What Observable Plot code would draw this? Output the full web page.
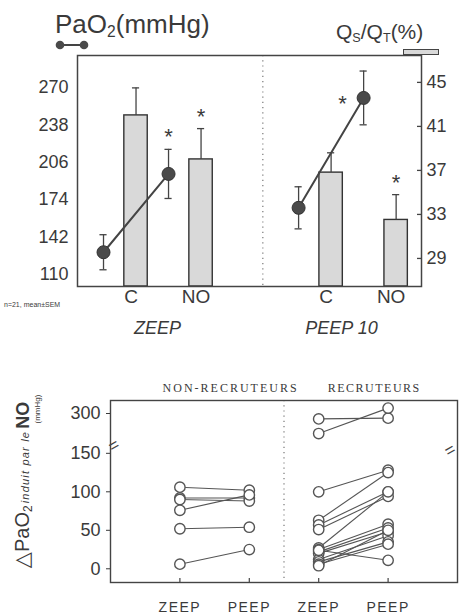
<!DOCTYPE html>
<html><head><meta charset="utf-8">
<script src="https://cdn.jsdelivr.net/npm/d3@7"></script>
<script src="https://cdn.jsdelivr.net/npm/@observablehq/plot@0.6"></script>
<style>
body{margin:0;background:#fff;}
#wrap{position:relative;width:459px;height:614px;overflow:hidden;font-family:"Liberation Sans",Arial,sans-serif;color:#3a3a3a;}
.abs{position:absolute;white-space:nowrap;}
.abs sub{font-size:60%;vertical-align:-0.25em;line-height:0;}
</style></head><body><div id="wrap"></div>
<script>
// ---- top panel data ----
const groups = ["ZEEP", "PEEP 10"];
const conditions = ["C", "NO"];
const pao2Mean = [129, 196, 167, 261];
const pao2Sem = [15, 21, 18, 23];
const shuntMean = [42.0, 38.0, 36.8, 32.5];
const shuntSem = [2.5, 2.8, 1.8, 2.3];
const pao2Signif = [false, true, false, true];
const shuntSignif = [false, true, false, true];
const pao2Ticks = [110, 142, 174, 206, 238, 270];
const shuntTicks = [29, 33, 37, 41, 45];

// ---- bottom panel data ----
const cohorts = ["NON-RECRUTEURS", "RECRUTEURS"];
const phases = ["ZEEP", "PEEP"];
const nonRecZeep = [106, 92, 90, 76, 52, 6];
const nonRecPeep = [102, 92, 88, 96, 54, 25];
const recZeep = [293, 274, 100, 63, 57, 51, 27, 25, 22, 20, 12, 9, 6, 4, 24];
const recPeep = [294, 307, 128, 125, 100, 94, 100, 58, 53, 48, 43, 35, 32, 50, 11];
const deltaTicks = [0, 50, 100, 150, 300];

const ink = "#3a3a3a";
const wrap = document.getElementById("wrap");

// ================= TOP PANEL =================
const shuntToPao = d3.scaleLinear([29, 45], [123.7, 274.3]);
const yMin = 99.7, yMax = 297.3;
const topRows = [];
groups.forEach((g, gi) => conditions.forEach((c, ci) => {
  const i = gi * 2 + ci;
  topRows.push({group: g, cond: c, slot: gi * 3 + ci + 1,
    pao: pao2Mean[i], paoSem: pao2Sem[i], ps: pao2Signif[i],
    shunt: shuntMean[i], shuntSem: shuntSem[i], ss: shuntSignif[i]});
}));
const circX = d => d.slot - 0.5;

const topPlot = Plot.plot({
  width: 459, height: 340,
  marginLeft: 77, marginRight: 38, marginTop: 55, marginBottom: 54,
  x: {domain: [0.1, 5.39]},
  y: {domain: [yMin, yMax]},
  style: {fontFamily: "Liberation Sans, Arial, sans-serif", color: ink, background: "transparent", overflow: "visible"},
  marks: [
    Plot.ruleX([2.95], {stroke: "#777", strokeWidth: 1.2, strokeDasharray: "1.2,4"}),
    Plot.rectY(topRows, {x1: d => d.slot - 0.18, x2: d => d.slot + 0.18, y1: yMin, y2: d => shuntToPao(d.shunt), fill: "#d9d9d9", stroke: "#333", strokeWidth: 1.4}),
    Plot.ruleX(topRows, {x: "slot", y1: d => shuntToPao(d.shunt), y2: d => shuntToPao(d.shunt + d.shuntSem), stroke: "#444", strokeWidth: 1.3}),
    Plot.ruleY(topRows, {y: d => shuntToPao(d.shunt + d.shuntSem), x1: d => d.slot - 0.055, x2: d => d.slot + 0.055, stroke: "#444", strokeWidth: 1.3}),
    Plot.ruleX(topRows, {x: circX, y1: d => d.pao - d.paoSem, y2: d => d.pao + d.paoSem, stroke: "#444", strokeWidth: 1.3}),
    Plot.ruleY(topRows, {y: d => d.pao + d.paoSem, x1: d => circX(d) - 0.055, x2: d => circX(d) + 0.055, stroke: "#444", strokeWidth: 1.3}),
    Plot.ruleY(topRows, {y: d => d.pao - d.paoSem, x1: d => circX(d) - 0.055, x2: d => circX(d) + 0.055, stroke: "#444", strokeWidth: 1.3}),
    Plot.line(topRows, {x: circX, y: "pao", z: "group", stroke: "#444", strokeWidth: 2}),
    Plot.dot(topRows, {x: circX, y: "pao", r: 6.5, fill: "#4a4a4a", stroke: "#333", strokeWidth: 1}),
    // significance stars
    Plot.text(topRows.filter(d => d.ps && d.group === groups[0]), {x: circX, y: d => d.pao + d.paoSem, text: () => "*", fontSize: 22, dy: -12, fill: ink}),
    Plot.text(topRows.filter(d => d.ps && d.group === groups[1]), {x: circX, y: "pao", text: () => "*", fontSize: 22, dx: -21, dy: 6, fill: ink}),
    Plot.text(topRows.filter(d => d.ss), {x: "slot", y: d => shuntToPao(d.shunt + d.shuntSem), text: () => "*", fontSize: 22, dy: -12, fill: ink}),
    Plot.frame({stroke: "#444", strokeWidth: 1.5}),
    Plot.axisY(pao2Ticks, {anchor: "left", tickSize: 0, tickPadding: 9, fontSize: 18, label: null}),
    Plot.axisY(shuntTicks.map(t => shuntToPao(t)), {anchor: "right", tickSize: 0, tickPadding: 5, fontSize: 18, label: null, tickFormat: d => Math.round(shuntToPao.invert(d))}),
    Plot.tickY(shuntTicks, {y: t => shuntToPao(t), insetLeft: 340, stroke: "#444", strokeWidth: 1.3}),
    Plot.axisX(topRows.map(d => d.slot), {tickSize: 0, tickPadding: 3, fontSize: 19, label: null, tickFormat: d => conditions[(d - 1) % 3], dx: -5}),
    Plot.text(groups, {x: (d, i) => [1.33, 4.16][i], frameAnchor: "bottom", dy: 47, fontSize: 18, fontStyle: "italic", fill: ink})
  ]
});
topPlot.style.position = "absolute";
topPlot.style.left = "0px";
topPlot.style.top = "0px";
wrap.appendChild(topPlot);

// ================= BOTTOM PANEL =================
const brkOffset = 98.3;
const brk = v => v > 200 ? v - brkOffset : v;
const unbrk = d => d > 175 ? Math.round(d + brkOffset) : Math.round(d);
const pairs = [];
nonRecZeep.forEach((z, i) => pairs.push({cohort: cohorts[0], zeep: z, peep: nonRecPeep[i]}));
recZeep.forEach((z, i) => pairs.push({cohort: cohorts[1], zeep: z, peep: recPeep[i]}));
const slotOf = (cohort, phase) => cohorts.indexOf(cohort) * 2 + phases.indexOf(phase) + 1;
const pts = pairs.flatMap(p => [
  {slot: slotOf(p.cohort, "ZEEP"), v: p.zeep},
  {slot: slotOf(p.cohort, "PEEP"), v: p.peep}
]);
const slots = [1, 2, 3, 4];

const botPlot = Plot.plot({
  width: 459, height: 274,
  marginLeft: 110, marginRight: 2, marginTop: 60, marginBottom: 32,
  x: {domain: [0, 5]},
  y: {domain: [-17.8, 218.6]},
  style: {fontFamily: "Liberation Sans, Arial, sans-serif", color: ink, background: "transparent", overflow: "visible"},
  marks: [
    Plot.ruleX([2.5], {stroke: "#777", strokeWidth: 1.2, strokeDasharray: "1.2,4"}),
    Plot.link(pairs, {x1: d => slotOf(d.cohort, "ZEEP"), x2: d => slotOf(d.cohort, "PEEP"), y1: d => brk(d.zeep), y2: d => brk(d.peep), stroke: "#555", strokeWidth: 1.1}),
    Plot.dot(pts, {x: "slot", y: d => brk(d.v), r: 5.2, fill: "white", stroke: "#555", strokeWidth: 1.4}),
    Plot.frame({stroke: "#444", strokeWidth: 1.4}),
    Plot.axisY(deltaTicks.map(brk), {anchor: "left", tickSize: 4, tickPadding: 6, fontSize: 18, label: null, tickFormat: unbrk}),
    Plot.tickX(slots, {x: d => d, insetTop: 178, stroke: "#444", strokeWidth: 1.2}),
    Plot.axisX(slots, {tickSize: 0, tickPadding: 20, fontSize: 14, label: null, tickFormat: d => phases[(d - 1) % 2]}),
    Plot.text(cohorts, {x: (d, i) => [1.73, 3.8][i], frameAnchor: "top", dy: -17, fontSize: 12, fontFamily: "Liberation Serif, serif", fill: ink}),
    Plot.text(["="], {frameAnchor: "left", y: [157], rotate: -30, fontSize: 17, fill: "#444", dx: -1}),
    Plot.text(["="], {frameAnchor: "right", y: [157], rotate: -30, fontSize: 17, fill: "#444", dx: -3})
  ]
});
botPlot.style.position = "absolute";
botPlot.style.left = "0px";
botPlot.style.top = "340px";
wrap.appendChild(botPlot);

// letter spacing on some labels
botPlot.querySelectorAll("text").forEach(t => {
  const s = t.textContent;
  if (cohorts.includes(s)) t.style.letterSpacing = s === cohorts[0] ? "2px" : "1.5px";
  if (phases.includes(s)) t.style.letterSpacing = "1.5px";
});

// ================= HTML titles & legends =================
function addDiv(html, css) {
  const d = document.createElement("div");
  d.className = "abs";
  d.innerHTML = html;
  d.style.cssText += css;
  wrap.appendChild(d);
  return d;
}
addDiv("PaO<sub>2</sub>(mmHg)", "left:55px;top:11px;font-size:26px;line-height:26px;");
addDiv("Q<sub>S</sub>/Q<sub>T</sub>(%)", "left:336px;top:21px;font-size:21px;line-height:21px;");
addDiv('<svg width="34" height="12"><line x1="5" y1="6" x2="29" y2="6" stroke="#444" stroke-width="2"/><circle cx="5" cy="6" r="4.3" fill="#4a4a4a"/><circle cx="29" cy="6" r="4.3" fill="#4a4a4a"/></svg>', "left:55px;top:39px;line-height:0;");
addDiv("", "left:403px;top:49px;width:34px;height:4px;background:#d9d9d9;border:1px solid #444;");
addDiv("n=21, mean\u00B1SEM", "left:4px;top:301px;font-size:7px;");
addDiv('<span style="font-family:DejaVu Sans;font-size:21px">\u25B3</span><span style="font-size:20px">PaO<sub>2</sub></span><span style="font-style:italic;font-size:11px;letter-spacing:1.2px;margin:0 2px">induit par le</span><span style="font-size:18px;font-weight:bold">NO</span>',
  "left:-78px;top:473px;width:200px;height:24px;line-height:24px;text-align:center;transform:rotate(-90deg);");
addDiv("(mmHg)", "left:18px;top:404px;width:40px;height:10px;line-height:10px;font-size:8px;text-align:center;transform:rotate(-90deg);");
</script></body></html>
